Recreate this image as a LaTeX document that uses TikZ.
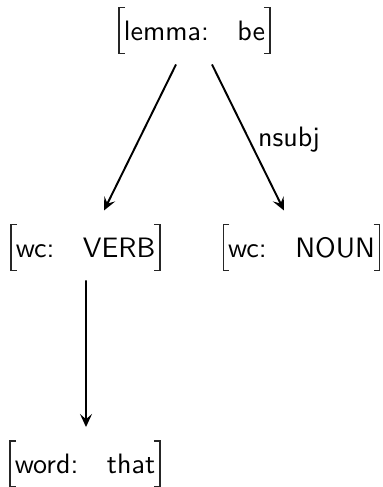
\documentclass[tikz,border=0pt]{standalone}
\usetikzlibrary{arrows.meta}
\tikzset{
  avm/.style={minimum height=17.3pt, inner xsep=1.6pt, inner ysep=0pt,
    text height=7.5pt, text depth=0pt, font=\fontsize{10.8pt}{13pt}\selectfont\sffamily},
  brk/.style={line width=0.55pt, black!85},
  edge/.style={line width=0.75pt, -{Stealth[length=5pt,width=4.6pt,inset=2pt]}},
  lab/.style={font=\fontsize{10.8pt}{13pt}\selectfont\sffamily, inner sep=1.8pt, anchor=base west},
}
\newcommand\avmgap{\hspace{11pt}}
\newcommand\avmbrackets[1]{%
  \draw[brk] ([xshift=2.3pt]#1.north west) -- (#1.north west) -- (#1.south west) -- ([xshift=2.3pt]#1.south west);
  \draw[brk] ([xshift=-2.3pt]#1.north east) -- (#1.north east) -- (#1.south east) -- ([xshift=-2.3pt]#1.south east);}
\begin{document}
\begin{tikzpicture}[x=0.385pt,y=-0.385pt]
\useasboundingbox (0,0) rectangle (382,487);
\node[avm] (top) at (194.5,30.5) {lemma:\avmgap be};
\node[avm] (verb) at (85.5,247.5) {wc:\avmgap VERB};
\node[avm] (noun) at (301.5,247.5) {wc:\avmgap NOUN};
\node[avm] (word) at (85,464) {word:\avmgap that};
\avmbrackets{top}
\avmbrackets{verb}
\avmbrackets{noun}
\avmbrackets{word}
\draw[edge] ([shift={(-18.5,11)}]top.south) -- ([shift={(18.5,-14)}]verb.north);
\draw[edge] ([shift={(17.5,11)}]top.south) -- node[lab, pos=0.562] (nsubj) {nsubj} ([shift={(-17.5,-14)}]noun.north);
\draw[edge] ([shift={(0.5,10)}]verb.south) -- ([shift={(1,-14)}]word.north);
\end{tikzpicture}
\end{document}
